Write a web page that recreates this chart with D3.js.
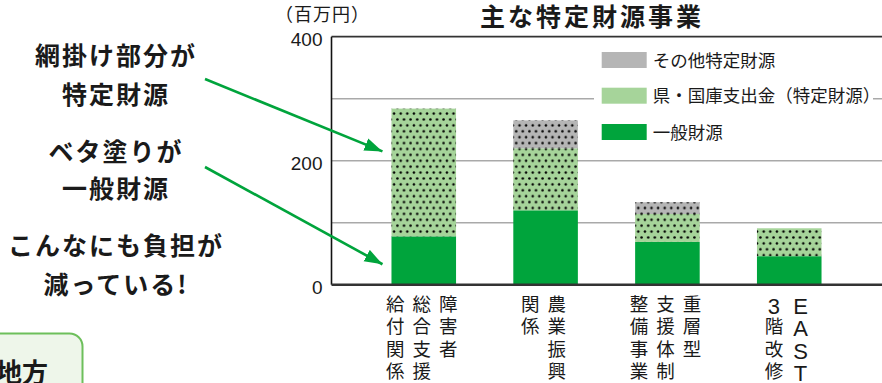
<!DOCTYPE html>
<html>
<head>
<meta charset="utf-8">
<script src="https://cdn.jsdelivr.net/npm/d3@7"></script>
<style>
  body { margin: 0; background: #fff; }
  svg { display: block; font-family: "Noto Sans CJK JP", sans-serif; }
</style>
</head>
<body>
<svg id="chart" width="882" height="383"></svg>
<script>
// data (百万円)
var categories = ["障害者総合支援給付関係", "農業振興関係", "重層型支援体制整備事業", "EAST3階改修"];
// vertical labels, columns read right to left
var labelColumns = [["障害者", "総合支援", "給付関係"], ["農業振興", "関係"], ["重層型", "支援体制", "整備事業"], ["EAST", "3階改修"]];
var generalFund = [78, 120, 69, 46];
var prefNationalFund = [206, 100, 45, 45];
var otherSpecificFund = [0, 45, 19, 0];
var seriesKeys = ["general", "pref", "other"];
var seriesNames = ["一般財源", "県・国庫支出金（特定財源）", "その他特定財源"];
var seriesColors = ["#00a43c", "#a6d49a", "#b5b5b5"];
var yTickValues = [0, 200, 400];
var gridValues = [100, 200, 300];

var svg = d3.select("#chart");

// NB: "top" is taken by window.top, so plot edges get their own names
var plotL = 331.5, plotR = 884, plotT = 36.7, plotB = 284.7;

var x = d3.scaleBand()
    .domain(categories)
    .range([333, 880])
    .paddingInner(0.47)
    .paddingOuter(0.48);

var y = d3.scaleLinear()
    .domain([0, 400])
    .range([plotB, plotT]);

var rows = categories.map(function (c, i) {
    return { cat: c, general: generalFund[i], pref: prefNationalFund[i], other: otherSpecificFund[i] };
});
var stacked = d3.stack().keys(seriesKeys)(rows);

var defs = svg.append("defs");
var pat = defs.append("pattern")
    .attr("id", "dots")
    .attr("patternUnits", "userSpaceOnUse")
    .attr("width", 6.6)
    .attr("height", 11.8);
pat.append("circle").attr("cx", 1.4).attr("cy", 1.4).attr("r", 1.25).attr("fill", "#000");
pat.append("circle").attr("cx", 4.7).attr("cy", 7.3).attr("r", 1.25).attr("fill", "#000");

defs.append("marker")
    .attr("id", "head")
    .attr("markerUnits", "userSpaceOnUse")
    .attr("viewBox", "0 -7 18 14")
    .attr("refX", 18)
    .attr("refY", 0)
    .attr("markerWidth", 18)
    .attr("markerHeight", 14)
    .attr("orient", "auto")
  .append("path")
    .attr("d", "M0,-6.5L18,0L0,6.5Z")
    .attr("fill", "#00a43c");

// grid
svg.append("g").selectAll("line")
    .data(gridValues)
    .enter().append("line")
    .attr("x1", plotL).attr("x2", plotR)
    .attr("y1", function (d) { return y(d); })
    .attr("y2", function (d) { return y(d); })
    .attr("stroke", "#a9a9a9")
    .attr("stroke-width", 1.6);

svg.append("line")
    .attr("x1", plotL).attr("x2", plotR)
    .attr("y1", y(400)).attr("y2", y(400))
    .attr("stroke", "#333").attr("stroke-width", 1.8);

// bars
var layer = svg.append("g").selectAll("g")
    .data(stacked)
    .enter().append("g")
    .attr("fill", function (d, i) { return seriesColors[i]; });

layer.selectAll("rect.fill")
    .data(function (d) { return d; })
    .enter().append("rect")
    .attr("class", "fill")
    .attr("x", function (d) { return x(d.data.cat); })
    .attr("y", function (d) { return y(d[1]); })
    .attr("width", x.bandwidth())
    .attr("height", function (d) { return y(d[0]) - y(d[1]); });

layer.filter(function (d) { return d.key !== "general"; })
    .selectAll("rect.dots")
    .data(function (d) { return d; })
    .enter().append("rect")
    .attr("class", "dots")
    .attr("x", function (d) { return x(d.data.cat); })
    .attr("y", function (d) { return y(d[1]); })
    .attr("width", x.bandwidth())
    .attr("height", function (d) { return y(d[0]) - y(d[1]); })
    .attr("fill", "url(#dots)");

// axes
svg.append("line")
    .attr("x1", plotL).attr("x2", plotL)
    .attr("y1", plotT).attr("y2", plotB)
    .attr("stroke", "#111").attr("stroke-width", 1.6);
svg.append("line")
    .attr("x1", plotL).attr("x2", plotR)
    .attr("y1", plotB).attr("y2", plotB)
    .attr("stroke", "#333").attr("stroke-width", 2.4);

svg.append("g").selectAll("text")
    .data(yTickValues)
    .enter().append("text")
    .attr("x", plotL - 9)
    .attr("y", function (d) { return y(d) + 9; })
    .attr("text-anchor", "end")
    .attr("font-family", "Liberation Sans, Arial, sans-serif")
    .attr("font-size", 19)
    .attr("fill", "#1a1a1a")
    .text(function (d) { return d; });

svg.append("text")
    .attr("x", 275).attr("y", 21)
    .attr("font-size", 18)
    .attr("letter-spacing", "1px")
    .attr("fill", "#1a1a1a")
    .text("（百万円）");

svg.append("text")
    .attr("x", 592).attr("y", 25.5)
    .attr("text-anchor", "middle")
    .attr("font-size", 25)
    .attr("font-weight", 700)
    .attr("letter-spacing", "3px")
    .attr("fill", "#1a1a1a")
    .text("主な特定財源事業");

// vertical category labels
var colStep = 26.5, rowStep = 22.5, firstRow = 303.5;
categories.forEach(function (c, i) {
    var cols = labelColumns[i];
    var cx = x(c) + x.bandwidth() / 2 - 2;
    cols.forEach(function (col, j) {
        var colX = cx + ((cols.length - 1) / 2 - j) * colStep;
        Array.from(col).forEach(function (ch, k) {
            var latin = /[A-Za-z0-9]/.test(ch);
            svg.append("text")
                .attr("x", colX)
                .attr("y", firstRow + k * rowStep + (latin ? 10 : 7))
                .attr("text-anchor", "middle")
                .attr("font-size", latin ? 22 : 18.5)
                .attr("font-family", latin ? "Liberation Sans, Arial, sans-serif" : null)
                .attr("fill", "#1a1a1a")
                .text(ch);
        });
    });
});

// legend (white box over the grid)
svg.append("rect")
    .attr("x", 594).attr("y", 43)
    .attr("width", 279).attr("height", 108)
    .attr("fill", "#fff");

var legendY = [132, 95.7, 60];
var legend = svg.append("g").selectAll("g")
    .data(seriesNames)
    .enter().append("g")
    .attr("transform", function (d, i) { return "translate(601.7," + legendY[i] + ")"; });
legend.append("rect")
    .attr("x", 0).attr("y", -8)
    .attr("width", 45).attr("height", 16)
    .attr("fill", function (d, i) { return seriesColors[i]; });
legend.append("text")
    .attr("x", 51).attr("y", 6.5)
    .attr("font-size", 17.5)
    .attr("fill", "#1a1a1a")
    .text(function (d) { return d; });

// left-side notes
var notes = [
    { t: "網掛け部分が", cy: 55 },
    { t: "特定財源", cy: 94 },
    { t: "ベタ塗りが", cy: 151 },
    { t: "一般財源", cy: 188.5 },
    { t: "こんなにも負担が", cy: 245.5 },
    { t: "減っている!", cy: 284.5 }
];
svg.append("g").selectAll("text")
    .data(notes)
    .enter().append("text")
    .attr("x", 116)
    .attr("y", function (d) { return d.cy + 9.5; })
    .attr("text-anchor", "middle")
    .attr("font-size", 25)
    .attr("font-weight", 700)
    .attr("letter-spacing", "2px")
    .attr("fill", "#1a1a1a")
    .text(function (d) { return d.t; });

// arrows to the first bar
var arrows = [
    { from: [205, 79], value: 215 },
    { from: [205, 167], value: 33 }
];
svg.append("g").selectAll("line")
    .data(arrows)
    .enter().append("line")
    .attr("x1", function (d) { return d.from[0]; })
    .attr("y1", function (d) { return d.from[1]; })
    .attr("x2", x(categories[0]) - 9)
    .attr("y2", function (d) { return y(d.value); })
    .attr("stroke", "#00a43c")
    .attr("stroke-width", 2.6)
    .attr("marker-end", "url(#head)");

// bottom-left box
svg.append("rect")
    .attr("x", -20).attr("y", 333.5)
    .attr("width", 102.5).attr("height", 90)
    .attr("rx", 13)
    .attr("fill", "#eef6ea")
    .attr("stroke", "#6dbf5b")
    .attr("stroke-width", 2);
svg.append("text")
    .attr("x", -4).attr("y", 382)
    .attr("font-size", 26)
    .attr("font-weight", 700)
    .attr("fill", "#1a1a1a")
    .text("地方");
</script>
</body>
</html>
